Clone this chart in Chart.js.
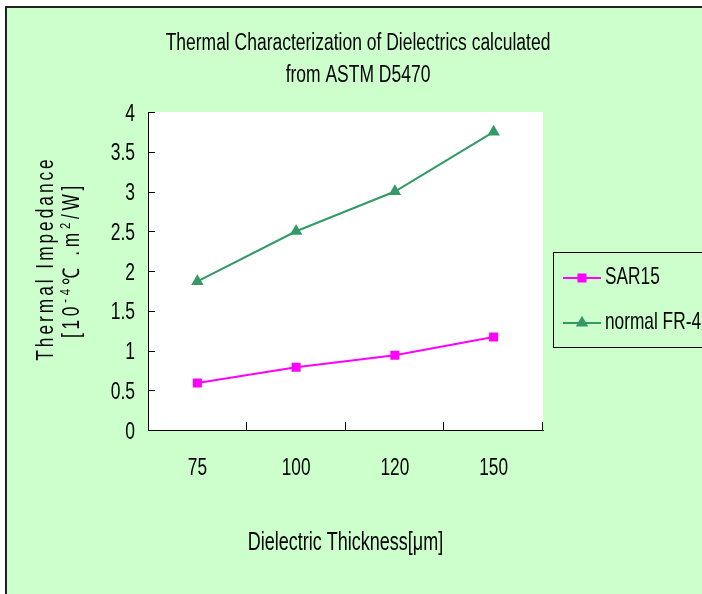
<!DOCTYPE html>
<html lang="en">
<head>
    <meta charset="UTF-8">
    <title>Thermal Characterization of Dielectrics</title>
    <script src="https://cdn.jsdelivr.net/npm/chart.js"></script>
    <style>
        body {
            margin: 0;
            padding: 0;
            background: #ffffff;
        }
        canvas {
            display: block;
        }
    </style>
</head>
<body>
    <canvas id="thermalChart" width="702" height="594"></canvas>
    <script>
        const thicknessLabels = ['75', '100', '120', '150'];
        const sar15Values = [0.59, 0.79, 0.94, 1.17];
        const fr4Values = [1.87, 2.5, 3.0, 3.75];
        const seriesNames = ['SAR15', 'normal FR-4'];
        const titleLines = ['Thermal Characterization of Dielectrics calculated', 'from ASTM D5470'];
        const xAxisTitle = 'Dielectric Thickness[μm]';

        const FONT = "'Liberation Sans', Arial, sans-serif";
        const BG_GREEN = '#ccffcc';

        // the original uses a narrow face, so squeeze Liberation Sans horizontally
        function squeezeText(ctx, text, x, y, size, sx, align) {
            ctx.save();
            ctx.translate(x, y);
            ctx.scale(sx, 1);
            ctx.font = size + 'px ' + FONT;
            ctx.textAlign = align;
            ctx.textBaseline = 'alphabetic';
            ctx.fillStyle = '#000';
            ctx.fillText(text, 0, 0);
            ctx.restore();
        }

        // frame, green panel and white plot area
        const backdrop = {
            id: 'backdrop',
            beforeDraw(chart) {
                const ctx = chart.ctx;
                const a = chart.chartArea;
                ctx.save();
                ctx.fillStyle = '#ffffff';
                ctx.fillRect(0, 0, chart.width, chart.height);
                ctx.fillStyle = BG_GREEN;
                ctx.fillRect(6, 8, chart.width, chart.height);
                ctx.strokeStyle = '#222';
                ctx.lineWidth = 2;
                ctx.beginPath();
                ctx.moveTo(6, chart.height);
                ctx.lineTo(6, 7);
                ctx.lineTo(chart.width, 7);
                ctx.stroke();
                ctx.fillStyle = '#ffffff';
                ctx.fillRect(a.left, a.top, a.right - a.left, a.bottom - a.top);
                ctx.restore();
            }
        };

        // titles, tick labels, inner tick marks and the boxed legend
        const decorations = {
            id: 'decorations',
            afterDraw(chart) {
                const ctx = chart.ctx;
                const a = chart.chartArea;
                const xs = chart.scales.x;
                const ys = chart.scales.y;
                ctx.save();

                // chart title
                squeezeText(ctx, titleLines[0], 358, 50, 23, 0.76, 'center');
                squeezeText(ctx, titleLines[1], 358, 82, 23, 0.76, 'center');

                // tick labels
                ys.ticks.forEach((t, i) => {
                    squeezeText(ctx, String(t.value), a.left - 13, ys.getPixelForTick(i) + 8.5, 23, 0.76, 'right');
                });
                xs.ticks.forEach((t, i) => {
                    squeezeText(ctx, xs.getLabelForValue(t.value), xs.getPixelForTick(i), 475, 23, 0.75, 'center');
                });

                // x axis title
                squeezeText(ctx, xAxisTitle, (a.left + a.right) / 2, 550, 25, 0.72, 'center');

                // y axis title, rotated
                ctx.save();
                ctx.translate(45, 260);
                ctx.rotate(-Math.PI / 2);
                ctx.scale(0.75, 1);
                ctx.fillStyle = '#000';
                ctx.textAlign = 'center';
                ctx.textBaseline = 'alphabetic';
                ctx.font = '23px ' + FONT;
                ctx.letterSpacing = '4px';
                ctx.fillText('Thermal Impedance', 2, 8);
                ctx.letterSpacing = '5px';
                const parts = [
                    ['[10', 23, 0], ['-4', 15, -9], ['℃ .m', 23, 0], ['2', 15, -9], ['/W]', 23, 0]
                ];
                let total = 0;
                parts.forEach(p => { ctx.font = p[1] + 'px ' + FONT; total += ctx.measureText(p[0]).width; });
                let cx = -total / 2;
                ctx.textAlign = 'left';
                parts.forEach(p => {
                    ctx.font = p[1] + 'px ' + FONT;
                    ctx.fillText(p[0], cx, 34 + p[2]);
                    cx += ctx.measureText(p[0]).width;
                });
                ctx.restore();

                // inner tick marks
                ctx.strokeStyle = '#000';
                ctx.lineWidth = 1;
                ctx.beginPath();
                ys.ticks.forEach((t, i) => {
                    const y = Math.round(ys.getPixelForTick(i)) + 0.5;
                    ctx.moveTo(a.left, y);
                    ctx.lineTo(a.left + 7, y);
                });
                const half = (xs.getPixelForValue(1) - xs.getPixelForValue(0)) / 2;
                thicknessLabels.forEach((l, i) => {
                    const x = Math.round(xs.getPixelForValue(i) + half) - 0.5;
                    ctx.moveTo(x, a.bottom);
                    ctx.lineTo(x, a.bottom - 8);
                });
                ctx.stroke();

                // legend box
                ctx.fillStyle = BG_GREEN;
                ctx.fillRect(553.5, 252.5, 170, 95);
                ctx.strokeStyle = '#000';
                ctx.strokeRect(553.5, 252.5, 170, 95);
                chart.data.datasets.forEach((ds, i) => {
                    const y = 278 + i * 45;
                    ctx.strokeStyle = ds.borderColor;
                    ctx.lineWidth = 2;
                    ctx.beginPath();
                    ctx.moveTo(563, y);
                    ctx.lineTo(601, y);
                    ctx.stroke();
                    ctx.fillStyle = ds.backgroundColor;
                    Chart.helpers.drawPoint(ctx, {
                        pointStyle: ds.pointStyle,
                        radius: ds.pointRadius,
                        borderWidth: 0
                    }, 582, y);
                    squeezeText(ctx, ds.label, 605, y + 6, 24, 0.72, 'left');
                });
                ctx.restore();
            }
        };

        const ctx = document.getElementById('thermalChart').getContext('2d');
        const chart = new Chart(ctx, {
            type: 'line',
            data: {
                labels: thicknessLabels,
                datasets: [{
                    label: seriesNames[0],
                    data: sar15Values,
                    borderColor: '#ff00ff',
                    backgroundColor: '#ff00ff',
                    borderWidth: 2,
                    pointStyle: 'rect',
                    pointRadius: 6.4,
                    pointBorderWidth: 0
                }, {
                    label: seriesNames[1],
                    data: fr4Values,
                    borderColor: '#339966',
                    backgroundColor: '#339966',
                    borderWidth: 2,
                    pointStyle: 'triangle',
                    pointRadius: 7.2,
                    pointBorderWidth: 0
                }]
            },
            options: {
                responsive: false,
                animation: false,
                devicePixelRatio: 1,
                layout: {
                    padding: { top: 112, right: 159, left: 0, bottom: 0 }
                },
                plugins: {
                    legend: { display: false },
                    title: { display: false },
                    tooltip: { enabled: false }
                },
                scales: {
                    x: {
                        offset: true,
                        grid: { offset: true, drawOnChartArea: false, drawTicks: false },
                        border: { color: '#000', width: 1 },
                        ticks: { display: false },
                        afterFit(scale) { scale.height = 164; }
                    },
                    y: {
                        min: 0,
                        max: 4,
                        grid: { drawOnChartArea: false, drawTicks: false },
                        border: { color: '#000', width: 1 },
                        ticks: { display: false, stepSize: 0.5 },
                        afterFit(scale) { scale.width = 148; }
                    }
                }
            },
            plugins: [backdrop, decorations]
        });
    </script>
</body>
</html>
